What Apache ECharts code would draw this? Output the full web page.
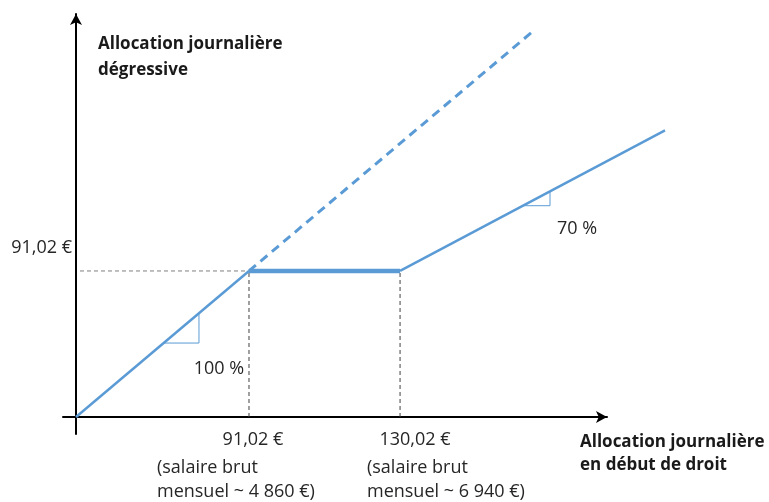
<!DOCTYPE html>
<html>
<head>
<meta charset="utf-8">
<script src="https://cdn.jsdelivr.net/npm/echarts@6/dist/echarts.min.js"></script>
<style>
  html, body { margin: 0; padding: 0; background: #fff; }
  #chart { width: 769px; height: 502px; }
</style>
</head>
<body>
<div id="chart"></div>
<script>
// Schematic diagram: x/y are in drawing units, not to scale.
// The data grid is wider than the drawn axes so the 70 % line can run past the arrow.
var xRangeData = [-6.84, 309.9];
var xRangeAxis = [-6.84, 279.4];
var yRange = [-10.6, 251.2];

// allocation curve: 100 % up to the floor, flat, then 70 %
var risePoints = [[0, 0], [91.02, 91.02]];
var flatPoints = [[91.02, 91.02], [170.5, 91.02]];
var slopePoints = [[170.5, 91.02], [309.9, 178.6]];
var dashedPoints = [[91.02, 91.02], [241, 241]];

// gray guide lines
var guideH = [[2.1, 91.02], [91.02, 91.02]];
var guideV1 = [[91.02, 0], [91.02, 91.02]];
var guideV2 = [[170.5, 0], [170.5, 91.02]];

// small slope triangles
var tri100 = [[46.1, 46.1], [64.7, 46.1], [64.7, 64.7]];
var tri70 = [[235.2, 131.7], [249.4, 131.7], [249.4, 140.6]];
var slopeLabels = [
  { name: '100 %', value: [75.2, 29.9] },
  { name: '70 %', value: [263.6, 117.2] }
];

var xTicks = [91.02, 170.5];
var xTickLabels = { '91.02': '{a|91,02 €}', '170.5': '{c|130,02 €}' };
var salaryNotes = [
  { name: '(salaire brut\nmensuel ~ 4 860 €)', value: [42.6, -39.3] },
  { name: '(salaire brut\nmensuel ~ 6 940 €)', value: [153.1, -39.3] }
];
var yTicks = [91.02];
var yTickLabels = { '91.02': '91,02 €' };

var yTitle = 'Allocation journalière\ndégressive';
var xTitle = 'Allocation journalière\nen début de droit';

var BLUE = '#5b9bd5';
var FONT = '"Open Sans", sans-serif';
var TEXT = '#262626';
var FS = 18;

function lineSeries(data, width, type, color, z) {
  return {
    type: 'line', data: data, symbol: 'none', clip: false, z: z || 3,
    lineStyle: { color: color || BLUE, width: width, type: type || 'solid' }
  };
}

function textSeries(data, extra) {
  return {
    type: 'scatter', data: data, symbolSize: 0, z: 5, clip: false,
    itemStyle: { opacity: 1 },
    label: Object.assign({ show: true, position: 'inside', formatter: '{b}',
                           color: TEXT, fontFamily: FONT, fontSize: FS }, extra || {})
  };
}

var hiddenAxis = { show: false, splitLine: { show: false } };
var axisLine = { onZero: true, symbol: ['none', 'arrow'], symbolSize: [9, 11],
                 lineStyle: { color: '#000', width: 2 } };

var chart = echarts.init(document.getElementById('chart'), null, { renderer: 'canvas' });
chart.setOption({
  animation: false,
  textStyle: { fontFamily: FONT, color: TEXT },
  title: [
    { text: yTitle, left: 98, top: 31, padding: 0,
      textStyle: { fontFamily: FONT, fontSize: 17, fontWeight: 'bold', color: '#1a1a1a', lineHeight: 26 } },
    { text: xTitle, left: 580, top: 431, padding: 0,
      textStyle: { fontFamily: FONT, fontSize: 17, fontWeight: 'bold', color: '#1a1a1a', lineHeight: 23 } }
  ],
  grid: [
    { left: 63, top: 14, width: 602, height: 420, containLabel: false, outerBoundsMode: 'none' },
    { left: 63, top: 14, width: 544, height: 420, containLabel: false, outerBoundsMode: 'none' }
  ],
  xAxis: [
    Object.assign({ type: 'value', gridIndex: 0, min: xRangeData[0], max: xRangeData[1] }, hiddenAxis),
    {
      type: 'value', gridIndex: 1, min: xRangeAxis[0], max: xRangeAxis[1],
      splitLine: { show: false },
      axisTick: { show: false },
      axisLine: axisLine,
      axisLabel: {
        customValues: xTicks, margin: -8, color: TEXT, fontFamily: FONT, fontSize: FS,
        hideOverlap: false,
        formatter: function (v) { return xTickLabels[String(v)] || ''; },
        rich: {
          a: { lineHeight: 28, fontSize: FS, color: TEXT, padding: [0, 0, 0, 8] },
          c: { lineHeight: 28, fontSize: FS, color: TEXT, padding: [0, 0, 0, 30] }
        }
      }
    }
  ],
  yAxis: [
    Object.assign({ type: 'value', gridIndex: 0, min: yRange[0], max: yRange[1] }, hiddenAxis),
    {
      type: 'value', gridIndex: 1, min: yRange[0], max: yRange[1],
      splitLine: { show: false },
      axisTick: { show: false },
      axisLine: axisLine,
      axisLabel: {
        customValues: yTicks, margin: -9, color: TEXT, fontFamily: FONT, fontSize: FS,
        verticalAlign: 'bottom', padding: [0, 0, 14, 0],
        formatter: function (v) { return yTickLabels[String(v)] || ''; }
      }
    }
  ],
  series: [
    lineSeries(guideH, 1, [4, 3], '#7f7f7f', 2),
    lineSeries(guideV1, 1, [4, 3], '#404040', 2),
    lineSeries(guideV2, 1, [4, 3], '#404040', 2),
    lineSeries(dashedPoints, 3, [9, 6]),
    lineSeries(risePoints, 2.5),
    lineSeries(flatPoints, 4.5),
    lineSeries(slopePoints, 2.5),
    lineSeries(tri100, 1),
    lineSeries(tri70, 1),
    textSeries(slopeLabels),
    textSeries(salaryNotes, { align: 'left', lineHeight: 24 })
  ]
});
</script>
</body>
</html>
